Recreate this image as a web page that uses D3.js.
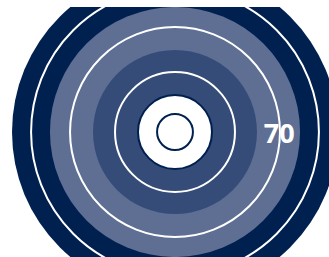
<!DOCTYPE html>
<html>
<head>
<meta charset="utf-8">
<script src="https://cdn.jsdelivr.net/npm/d3@7"></script>
<style>
  html, body { margin: 0; padding: 0; background: #fff; }
  svg { display: block; }
</style>
</head>
<body>
<div id="chart"></div>
<script>
// ring values (outer edge of each filled band)
var bandValues = [22.7, 50.3, 76.7, 100];
var bandColors = ["#ffffff", "#364c78", "#5f6f94", "#002050"];

// white grid rings
var gridValues = [36.8, 64.4, 88.3];

// small dark ring in the middle
var innerRing = [11];

// value label
var labelText = ["70"];
var labelValue = [64];

var svgWidth = 329;
var svgHeight = 257;
var cx = 175;
var cy = 132;

var svg = d3.select("#chart")
  .append("svg")
  .attr("width", svgWidth)
  .attr("height", svgHeight);

// plot area is cut off at the top
svg.append("defs").append("clipPath")
  .attr("id", "plot")
  .append("rect")
  .attr("x", 0)
  .attr("y", 7)
  .attr("width", svgWidth)
  .attr("height", svgHeight - 7);

var rScale = d3.scaleLinear()
  .domain([0, 100])
  .range([0, 163]);

// clip on an untransformed group, then move to the centre
var g = svg.append("g")
  .attr("clip-path", "url(#plot)")
  .append("g")
  .attr("transform", `translate(${cx}, ${cy})`);

// draw bands largest first
var bands = bandValues.map((v, i) => ({ value: v, color: bandColors[i] })).reverse();

g.selectAll("circle.band")
  .data(bands)
  .enter()
  .append("circle")
  .attr("class", "band")
  .attr("r", d => rScale(d.value))
  .attr("fill", d => d.color);

// dark outline round the white disc
g.append("circle")
  .attr("r", rScale(bandValues[0]))
  .attr("fill", "none")
  .attr("stroke", "#002050")
  .attr("stroke-width", 2);

g.selectAll("circle.inner")
  .data(innerRing)
  .enter()
  .append("circle")
  .attr("class", "inner")
  .attr("r", d => rScale(d))
  .attr("fill", "none")
  .attr("stroke", "#002050")
  .attr("stroke-width", 2);

g.selectAll("circle.grid")
  .data(gridValues)
  .enter()
  .append("circle")
  .attr("class", "grid")
  .attr("r", d => rScale(d))
  .attr("fill", "none")
  .attr("stroke", "#ffffff")
  .attr("stroke-width", 2);

g.selectAll("text.label")
  .data(labelText)
  .enter()
  .append("text")
  .attr("class", "label")
  .attr("x", (d, i) => rScale(labelValue[i]))
  .attr("y", 11)
  .attr("text-anchor", "middle")
  .attr("fill", "#ffffff")
  .style("font-family", "'Open Sans', sans-serif")
  .style("font-weight", "bold")
  .style("font-size", "27px")
  .text(d => d);
</script>
</body>
</html>
